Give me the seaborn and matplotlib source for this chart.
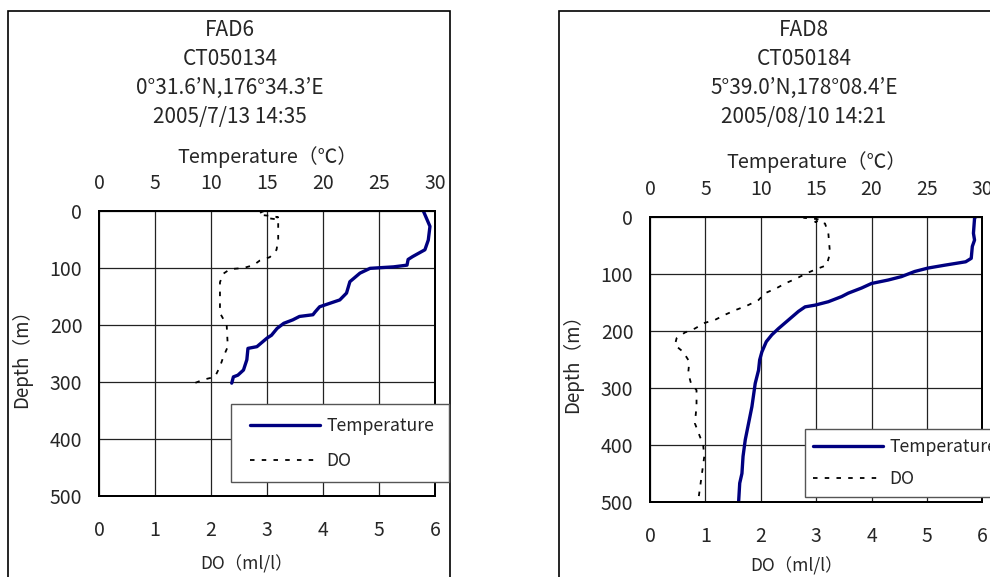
import numpy as np
import matplotlib
matplotlib.use("Agg")
import matplotlib.pyplot as plt
import seaborn as sns
from matplotlib.patches import Rectangle

# ── data ────────────────────────────────────────────────────────────────────
fad6_title = ["FAD6", "CT050134", "0°31.6’N,176°34.3’E", "2005/7/13 14:35"]
fad6_temp_depth = [0, 27, 51, 68, 80, 85, 95, 98, 100.6, 109, 124, 144, 156, 162, 168,
                   177, 182, 185, 191, 197, 206, 218, 223, 238, 241, 261, 279, 288, 291, 302]
fad6_temp = [28.96, 29.55, 29.4, 29.1, 28.0, 27.6, 27.5, 26.3, 24.2, 23.3, 22.4, 22.1, 21.5,
             20.6, 19.7, 19.3, 19.1, 17.9, 17.3, 16.5, 15.9, 15.4, 15.0, 14.1, 13.3, 13.2,
             12.9, 12.4, 12.0, 11.85]
fad6_do_depth = [0, 2, 5, 7, 9, 11, 13, 15, 30, 50, 68, 81, 87, 95, 100, 102, 110, 125,
                 150, 179, 200, 238, 256, 273, 291, 296, 303]
fad6_do = [2.95, 2.9, 2.85, 2.9, 3.1, 3.2, 3.05, 3.2, 3.2, 3.2, 3.17, 3.05, 2.87, 2.76,
           2.58, 2.34, 2.22, 2.16, 2.16, 2.16, 2.28, 2.3, 2.22, 2.16, 2.07, 1.86, 1.68]

fad8_title = ["FAD8", "CT050184", "5°39.0’N,178°08.4’E", "2005/08/10 14:21"]
fad8_temp_depth = [0, 3, 29, 41, 52, 73, 79, 85, 90, 96, 105, 111, 117, 125, 134, 140, 149,
                   155, 158, 166, 181, 196, 207, 219, 237, 251, 269, 292, 333, 362, 391,
                   420, 450, 467, 500]
fad8_temp = [29.4, 29.3, 29.2, 29.3, 29.1, 29.0, 28.5, 26.6, 25.1, 23.9, 22.7, 21.5, 20.0,
             19.1, 17.9, 17.3, 16.1, 14.9, 14.0, 13.4, 12.5, 11.6, 11.0, 10.5, 10.1, 9.9,
             9.8, 9.5, 9.2, 8.9, 8.6, 8.4, 8.3, 8.1, 8.0]
fad8_do_depth = [0, 2, 4, 6, 9, 12, 29, 64, 85, 92, 99, 108, 117, 125, 134, 146, 156, 163,
                 172, 181, 186, 196, 203, 213, 225, 237, 254, 274, 292, 304, 333, 362, 380,
                 400, 420, 456, 491]
fad8_do = [2.76, 2.78, 3.0, 3.1, 2.98, 3.16, 3.22, 3.25, 3.19, 3.0, 2.83, 2.65, 2.44, 2.29,
           2.08, 1.96, 1.75, 1.56, 1.35, 1.17, 0.99, 0.81, 0.63, 0.48, 0.45, 0.6, 0.71, 0.69,
           0.74, 0.84, 0.84, 0.81, 0.88, 0.96, 0.98, 0.93, 0.88]

temp_ticks = [0, 5, 10, 15, 20, 25, 30]
do_ticks = [0, 1, 2, 3, 4, 5, 6]
depth_ticks = [0, 100, 200, 300, 400, 500]

sns.set_theme(style="white")
plt.rcParams["font.family"] = ["Noto Sans CJK JP", "DejaVu Sans"]

NAVY = "#000080"
DOTTED = (0, (2.5, 4))
W, H = 990, 577


def fx(px):
    return px / W


def fy(py):
    return 1 - py / H


fig = plt.figure(figsize=(9.9, 5.77), dpi=100)

# outer frames of the two charts (they run off the bottom / right edge)
for x0, w in [(7.5, 442.5), (559, 440)]:
    fig.patches.append(Rectangle((fx(x0), -0.05), w / W, fy(10.7) + 0.05,
                                 transform=fig.transFigure, fill=False,
                                 edgecolor="black", lw=1.2))


def draw_panel(box, title, t_depth, temp, d_depth, do, title_x, ylab_x, xlab_y, tlab_y,
               leg_rect, leg_anchor, leg_spacing):
    left, top, right, bottom = box
    ax = fig.add_axes([fx(left), fy(bottom), (right - left) / W, (bottom - top) / H])
    ax_t = ax.twiny()

    sns.lineplot(x=do, y=d_depth, sort=False, estimator=None, ax=ax, color="black",
                 lw=1.3, linestyle=DOTTED, legend=False)
    sns.lineplot(x=temp, y=t_depth, sort=False, estimator=None, ax=ax_t, color=NAVY,
                 lw=2.4, legend=False)

    ax.set_xlim(0, 6)
    ax_t.set_xlim(0, 30)
    ax.set_ylim(500, 0)
    ax.set_xticks(do_ticks)
    ax_t.set_xticks(temp_ticks)
    ax.set_yticks(depth_ticks)
    ax.grid(True, color="#222222", lw=0.9)
    ax_t.grid(False)

    ax.tick_params(axis="x", length=0, pad=17, labelsize=14)
    ax.tick_params(axis="y", length=0, pad=12, labelsize=14)
    ax_t.tick_params(axis="x", length=0, pad=12, labelsize=14)

    for a in (ax, ax_t):
        for s in a.spines.values():
            s.set_color("black")
            s.set_linewidth(1.4)

    ax.set_xlabel("DO（ml/l）", fontsize=12.5)
    ax.xaxis.set_label_coords(0.44, xlab_y)
    ax.set_ylabel("Depth（m）", fontsize=13.5)
    ax.yaxis.set_label_coords(ylab_x, 0.5)
    ax_t.set_xlabel("Temperature（℃）", fontsize=14.2)
    ax_t.xaxis.set_label_coords(0.5, tlab_y)

    for i, line in enumerate(title):
        fig.text(title_x, fy(30 + 29 * i), line, ha="center", va="center", fontsize=15)

    # legend: plain frame drawn by hand, entries from a figure legend on top
    lx0, ly0, lx1, ly1 = leg_rect
    fig.patches.append(Rectangle((fx(lx0), fy(ly1)), (lx1 - lx0) / W, (ly1 - ly0) / H,
                                 transform=fig.transFigure, facecolor="white",
                                 edgecolor="#555555", lw=1.0))
    handles = ax_t.get_lines()[:1] + ax.get_lines()[:1]
    fig.legend(handles, ["Temperature", "DO"], loc="center left",
               bbox_to_anchor=(fx(leg_anchor[0]), fy(leg_anchor[1])),
               bbox_transform=fig.transFigure, borderaxespad=0, borderpad=0,
               fontsize=12.7, handlelength=3.97, handletextpad=0.34,
               labelspacing=leg_spacing, frameon=False)
    return ax


draw_panel((99, 211, 435, 496), fad6_title, fad6_temp_depth, fad6_temp,
           fad6_do_depth, fad6_do, fx(230), -0.2, -0.207, 1.169,
           (231, 404, 449, 482), (250, 443.7), 0.98)
draw_panel((650, 216.7, 982.3, 502), fad8_title, fad8_temp_depth, fad8_temp,
           fad8_do_depth, fad8_do, fx(804), -0.202, -0.193, 1.171,
           (805, 429, 1000, 497), (813, 463), 0.78)

fig.savefig("out.png", dpi=100)
